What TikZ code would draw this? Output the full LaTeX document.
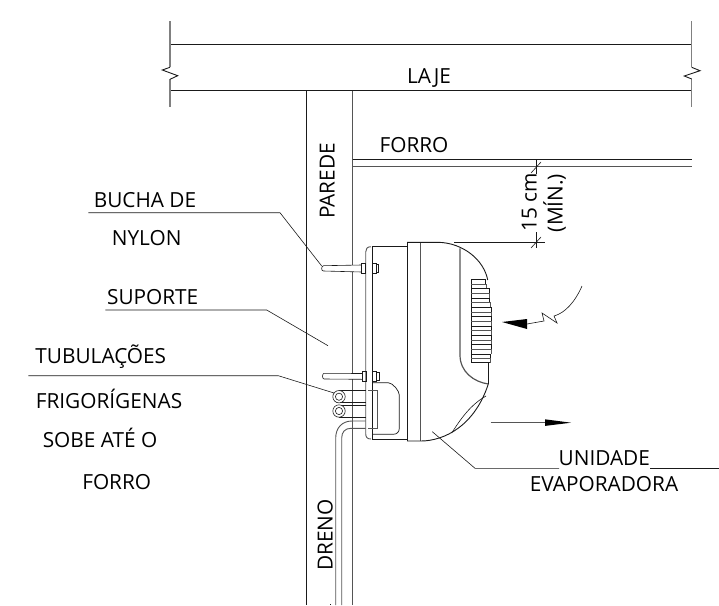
\documentclass[tikz,border=0pt]{standalone}
\usepackage{fontspec}
\setmainfont{Open Sans}
\definecolor{dk}{HTML}{1A1A1A}
\definecolor{md}{HTML}{555555}
\definecolor{gr}{HTML}{808080}
\tikzset{
  blk/.style={draw=dk,line width=0.9pt},
  thn/.style={draw=dk,line width=0.6pt},
  gry/.style={draw=md,line width=0.9pt},
  thk/.style={draw=gr,line width=1.5pt},
  lbl/.style={font=\fontsize{20.8}{23}\selectfont,text=black,inner sep=0pt,anchor=base},
  vlbl/.style={lbl,rotate=90}
}
\begin{document}
\begin{tikzpicture}[x=1pt,y=-1pt]
\useasboundingbox (0,0) rectangle (719,605);
% slab
\draw[blk] (170,44) -- (692,44);
\draw[blk] (170,90.7) -- (692,90.7);
\draw[thk] (170,21) -- (170,67.3);
\draw[thk] (170,79.3) -- (170,107);
\draw[blk] (170,67.3) -- (162.3,70) -- (177.7,75.7) -- (170,79.3);
\draw[thk] (691.7,21) -- (691.7,67.3);
\draw[thk] (691.7,79) -- (691.7,107);
\draw[blk] (691.7,67.3) -- (700,70.7) -- (684.3,76) -- (691.7,79);
% walls
\draw[blk] (306.7,90.7) -- (306.7,605);
\draw[gry] (352.7,90.7) -- (352.7,605);
% ceiling
\draw[blk] (352.7,159.3) -- (692,159.3);
\draw[gry,line width=1.1pt] (352.7,166.7) -- (692,166.7);
% dimension
\draw[thn] (454,242.7) -- (545,242.7);
\draw[thn] (536.7,159.3) -- (536.7,174);
\draw[thn] (536.7,232) -- (536.7,248);
\draw[thn] (531,173) -- (541,162);
\draw[thn] (531,248) -- (541,237);
% unit body
\draw[blk] (372.3,246.7) -- (407,246.7);
\draw[blk] (372.3,439) -- (407,439);
\draw[gry] (371,246.7) .. controls (367,246.7) and (365.7,249) .. (365.7,252) -- (365.7,433.5) .. controls (365.7,437) and (367,439) .. (371,439);
\draw[line width=1.1pt,draw=dk] (372.3,246.7) -- (372.3,439);
\draw[blk] (407,242.3) -- (407,441);
\draw[gry] (420.7,242.3) -- (420.7,441);
\draw[blk] (407,242.3) -- (438,242.3) .. controls (463,242.7) and (484,260) .. (487.7,280);
\draw[blk] (407,441) -- (420.7,441) .. controls (445,441) and (475,425) .. (488.3,384);
\draw[gry,line width=1.2pt] (460,248.3) -- (460,355) .. controls (460,372) and (474,382) .. (488.3,384);
\draw[thn] (486,396) .. controls (470,405) and (460,420) .. (451.7,433);
\draw[thn] (488.3,362.7) -- (488.3,384);
% grille
\draw[thn,line width=0.8pt] (471.3,279.3) -- (471.3,362.7);
\foreach \yy/\xa/\xb in {279.3/485/486,288.6/489/489,298/489.5/490,307.3/491/491,316.6/491/491,326/491/491,335.3/491/491,344.6/491/491,354/490/490}{
  \draw[thn,line width=0.75pt] (471.3,\yy) -- (\xa,\yy) -- (\xa,\yy+4.7);
  \draw[gry,line width=0.6pt] (471.3,\yy+4.7) -- (\xb,\yy+4.7) -- (\xb,\yy+9.3);
}
\draw[thn,line width=0.75pt] (471.3,362.7) -- (490,362.7);
% upper bolt
\draw[thn,fill=white] (361.7,265) -- (323.5,265.7) .. controls (321,266) and (321,271) .. (323.5,271) -- (361.7,272);
\draw[blk] (361.7,263.3) rectangle (365.7,273.3);
\draw[thn] (372.3,263.3) rectangle (376,273.3);
\draw[thn] (376,264.5) rectangle (378.7,272);
% lower bolt
\draw[thn,fill=white] (362.3,373.5) -- (324,373.3) .. controls (322,374) and (322,378.5) .. (324,379) -- (362.3,379.3);
\draw[blk] (362.3,371) rectangle (366.5,381);
\draw[thn] (372.3,371) rectangle (376,381);
\draw[thn] (376,372.2) rectangle (379,379.8);
% inner box
\draw[blk,line width=0.7pt] (372.3,382.7) -- (388.3,382.7) .. controls (393,383) and (399.3,391) .. (399.3,395) -- (399.3,428) .. controls (399.3,432) and (397,434.3) .. (393,434.3) -- (372.3,434.3);
\draw[gry] (368.3,390) -- (377.7,390) -- (377.7,428.3) -- (368.3,428.3);
% refrigerant tubes
\draw[thn] (339,390.5) -- (365.7,390.5);
\draw[thn] (339,402.5) -- (365.7,402.5);
\draw[thn] (339,405.5) -- (365.7,405.5);
\draw[thn] (339,417.5) -- (365.7,417.5);
\foreach \yy in {396.7,411}{
  \draw[thn,fill=white] (339,\yy) circle[radius=6.2];
  \draw[thn] (339,\yy) circle[radius=3.6];
}
% drain
\draw[gry] (335.7,605) -- (335.7,438) .. controls (335.7,428) and (342,421) .. (352,421) -- (365.7,421);
\draw[gry] (341.7,605) -- (341.7,438) .. controls (341.7,432) and (345,428.3) .. (351,428.3) -- (365.7,428.3);
\fill[dk] (330.2,603.7) rectangle (331.2,605);
% arrows
\draw[thn] (582,286) .. controls (575,302) and (565,313) .. (554,316) -- (557,323) -- (542,313) -- (544,321) -- (527,324);
\fill[black] (502,322) -- (527,319) -- (527,329) -- cycle;
\draw[gry] (490.7,422.7) -- (545,422.7);
\fill[black] (571,422.7) -- (545,419.3) -- (545,425.9) -- cycle;
% leaders
\draw[thn] (88.3,212.7) -- (280,212.7) -- (321.7,266);
\draw[thn] (105.3,310) -- (266.7,310) -- (328,345.7);
\draw[thn] (28.3,375.7) -- (278.3,375.7) -- (334,393);
\draw[thn] (432.3,431.7) -- (475,468.3) -- (559,468.3);
\draw[thn] (650,468.3) -- (719,468.3);
% labels
\node[lbl] (laje) at (429,83.5) {LAJE};
\node[lbl] (forroa) at (414,152.5) {FORRO};
\node[vlbl] (parede) at (334.5,181) {PAREDE};
\node[vlbl] (dreno) at (332.5,535) {DRENO};
\node[vlbl] (cm) at (536.7,202.5) {15 cm};
\node[vlbl] (min) at (562.7,203) {(MÍN.)};
\node[lbl] (bucha) at (145,207) {BUCHA DE};
\node[lbl] (nylon) at (146.7,245) {NYLON};
\node[lbl] (suporte) at (152.7,304.2) {SUPORTE};
\node[lbl] (tub) at (100.8,363.5) {TUBULAÇÕES};
\node[lbl] (frig) at (109,408.5) {FRIGORÍGENAS};
\node[lbl] (sobe) at (100,447.5) {SOBE ATÉ O};
\node[lbl] (forrob) at (116.7,489.5) {FORRO};
\node[lbl] (unid) at (604.3,465.7) {UNIDADE};
\node[lbl] (evap) at (604,491.7) {EVAPORADORA};
\end{tikzpicture}
\end{document}
